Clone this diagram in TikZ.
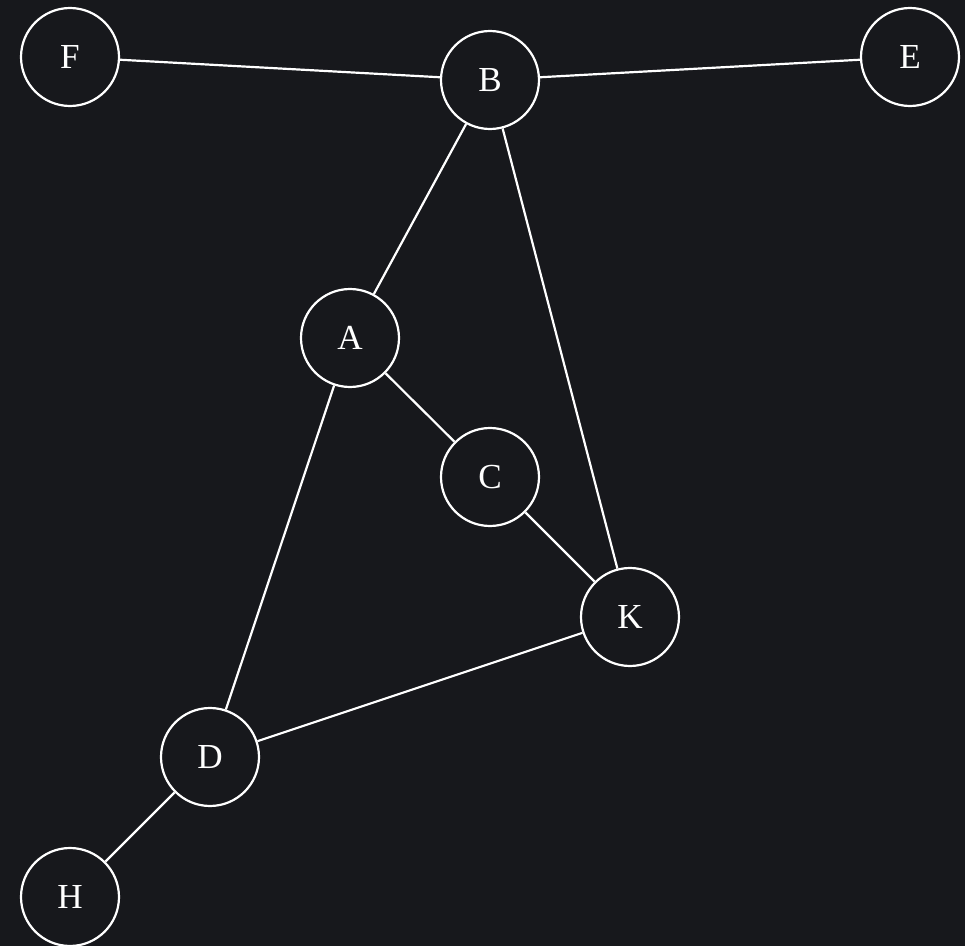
\documentclass[tikz,border=0pt]{standalone}
\usepackage{fontspec}
\setmainfont{Liberation Serif}
\usepackage{xcolor}
\definecolor{bgdark}{HTML}{17181C}
\definecolor{linewhite}{HTML}{FFFFFF}
\usepackage{tikz}
\usetikzlibrary{positioning}
\tikzset{
    vertex/.style = {circle, draw=linewhite, fill=bgdark, line width=1.25pt,
                     minimum size=1.96cm, inner sep=0pt,
                     text=linewhite, font=\fontsize{20}{24}\selectfont},
    edge/.style = {draw=linewhite, line width=1.25pt},
}

\begin{document}
\begin{tikzpicture}[x=0.02cm, y=-0.02cm]
        % background and page size
        \fill[bgdark] (0,0) rectangle (965,946);
        \useasboundingbox (0,0) rectangle (965,946);
        % vertices
        \node[vertex] (F) at (70,57) {F};
        \node[vertex] (B) at (490,80) {B};
        \node[vertex] (E) at (910,57) {E};
        \node[vertex] (A) at (350,338) {A};
        \node[vertex] (C) at (490,477) {C};
        \node[vertex] (K) at (630,617) {K};
        \node[vertex] (D) at (210,757) {D};
        \node[vertex] (H) at (70,897) {H};
        % edges
        \draw[edge] (F) -- (B);
        \draw[edge] (B) -- (E);
        \draw[edge] (B) -- (A);
        \draw[edge] (B) -- (K);
        \draw[edge] (A) -- (C);
        \draw[edge] (A) -- (D);
        \draw[edge] (C) -- (K);
        \draw[edge] (K) -- (D);
        \draw[edge] (D) -- (H);
      \end{tikzpicture}
\end{document}
